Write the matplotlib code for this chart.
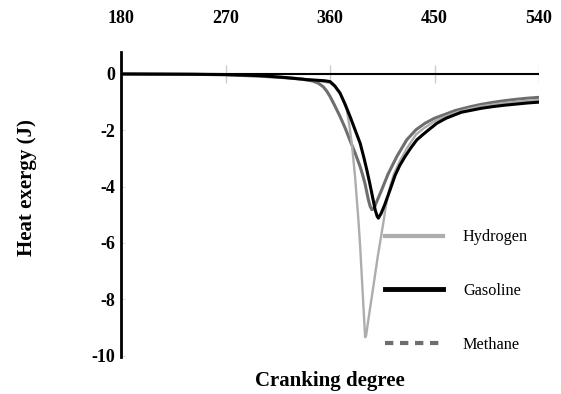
import matplotlib.pyplot as plt
from matplotlib.lines import Line2D

plt.rcParams['font.family'] = ['Liberation Serif', 'DejaVu Serif']

# crank angle (deg) and heat exergy (J)
gas_deg = [180, 240, 270, 300, 320, 340, 355, 360, 364, 368.6, 373, 377.2, 381.5, 385.9,
           389, 391.6, 394, 395.9, 398.8, 400.5, 401.6, 404, 407, 411.7, 416, 420,
           424.6, 430, 434.7, 440, 445, 452, 460, 473, 490, 500, 510, 520, 530, 540]
gas_val = [0.0, -0.01, -0.02, -0.06, -0.12, -0.2, -0.24, -0.27, -0.42, -0.68, -1.08,
           -1.51, -1.98, -2.46, -2.95, -3.4, -3.85, -4.23, -4.82, -5.05, -5.12, -4.95,
           -4.65, -4.11, -3.6, -3.25, -2.93, -2.6, -2.34, -2.15, -1.98, -1.75, -1.57,
           -1.36, -1.22, -1.16, -1.11, -1.07, -1.03, -1.0]

met_deg = [180, 240, 270, 300, 320, 335, 345, 350, 354, 357, 360, 364, 368.6, 373, 377,
           381.5, 385.9, 388, 390, 393, 394.5, 396, 398, 400, 404.5, 410, 417.5, 426,
           434, 441.8, 450, 460, 467.7, 480, 490, 500, 510, 520, 530, 540]
met_val = [0.0, -0.01, -0.03, -0.08, -0.13, -0.18, -0.25, -0.33, -0.45, -0.6, -0.8,
           -1.12, -1.51, -1.92, -2.34, -2.8, -3.29, -3.58, -3.88, -4.47, -4.7, -4.82,
           -4.75, -4.55, -4.11, -3.55, -2.93, -2.34, -1.98, -1.75, -1.57, -1.42, -1.3,
           -1.17, -1.08, -1.01, -0.95, -0.9, -0.86, -0.83]

hyd_deg = [180, 270, 300, 330, 350, 360, 364, 368, 371, 374.4, 376.5, 378.7, 381.5,
           384.4, 385.9, 388, 390.2, 391, 393, 397.3, 401, 405.8, 408, 411, 415, 420,
           426, 434, 441, 450, 460, 470, 480, 490, 500, 510, 520, 530, 540]
hyd_val = [0.0, -0.02, -0.06, -0.14, -0.24, -0.32, -0.45, -0.65, -0.9, -1.28, -1.8,
           -2.46, -3.64, -5.18, -6.12, -7.7, -9.35, -9.3, -8.72, -7.54, -6.5, -5.3,
           -4.7, -4.1, -3.55, -3.1, -2.65, -2.15, -1.92, -1.68, -1.5, -1.35, -1.24,
           -1.15, -1.09, -1.03, -0.99, -0.95, -0.92]

xticks = [180, 270, 360, 450, 540]
yticks = [0, -2, -4, -6, -8, -10]
labels = ['Hydrogen', 'Gasoline', 'Methane']
colors = ['#adadad', '#000000', '#6e6e6e']

fig = plt.figure(figsize=(5.61, 3.94), dpi=100)
ax = fig.add_axes([0.2157, 0.094, 0.7453, 0.774])

ax.plot(met_deg, met_val, color=colors[2], lw=2.2, zorder=2)
ax.plot(hyd_deg, hyd_val, color=colors[0], lw=1.7, zorder=3)
ax.plot(gas_deg, gas_val, color=colors[1], lw=2.2, zorder=4)

# zero line with little grey tick marks on it
ax.axhline(0, color='black', lw=1.5, zorder=5)
ax.vlines(xticks[1:], -0.32, 0.32, color='#cccccc', lw=1, zorder=1)

ax.set_xlim(180, 540)
ax.set_ylim(-10.05, 0.78)

for s in ['top', 'right', 'bottom']:
    ax.spines[s].set_visible(False)
ax.spines['left'].set_linewidth(2)

ax.xaxis.tick_top()
ax.set_xticks(xticks)
ax.set_xticklabels([str(v) for v in xticks], fontweight='bold', fontsize=13)
ax.tick_params(axis='x', length=0, pad=18)

ax.set_yticks(yticks)
ax.set_yticklabels([str(v) for v in yticks], fontweight='bold', fontsize=13)
ax.tick_params(axis='y', direction='in', length=3, color='#dddddd', pad=4)

fig.text(0.048, 0.523, 'Heat exergy (J)', rotation=90, ha='center', va='center',
         fontweight='bold', fontsize=15)
fig.text(0.588, 0.033, 'Cranking degree', ha='center', va='center',
         fontweight='bold', fontsize=15)

handles = [Line2D([], [], color=colors[0], lw=3),
           Line2D([], [], color=colors[1], lw=3.5),
           Line2D([], [], color=colors[2], lw=3, ls=(0, (2, 1.6)))]
ax.legend(handles, labels, loc='upper left', bbox_to_anchor=(0.66, 0.455),
          bbox_transform=fig.transFigure, frameon=False, fontsize=11.7,
          handlelength=3.6, handletextpad=1.2, labelspacing=2.32)

plt.savefig('out.png', dpi=100)
